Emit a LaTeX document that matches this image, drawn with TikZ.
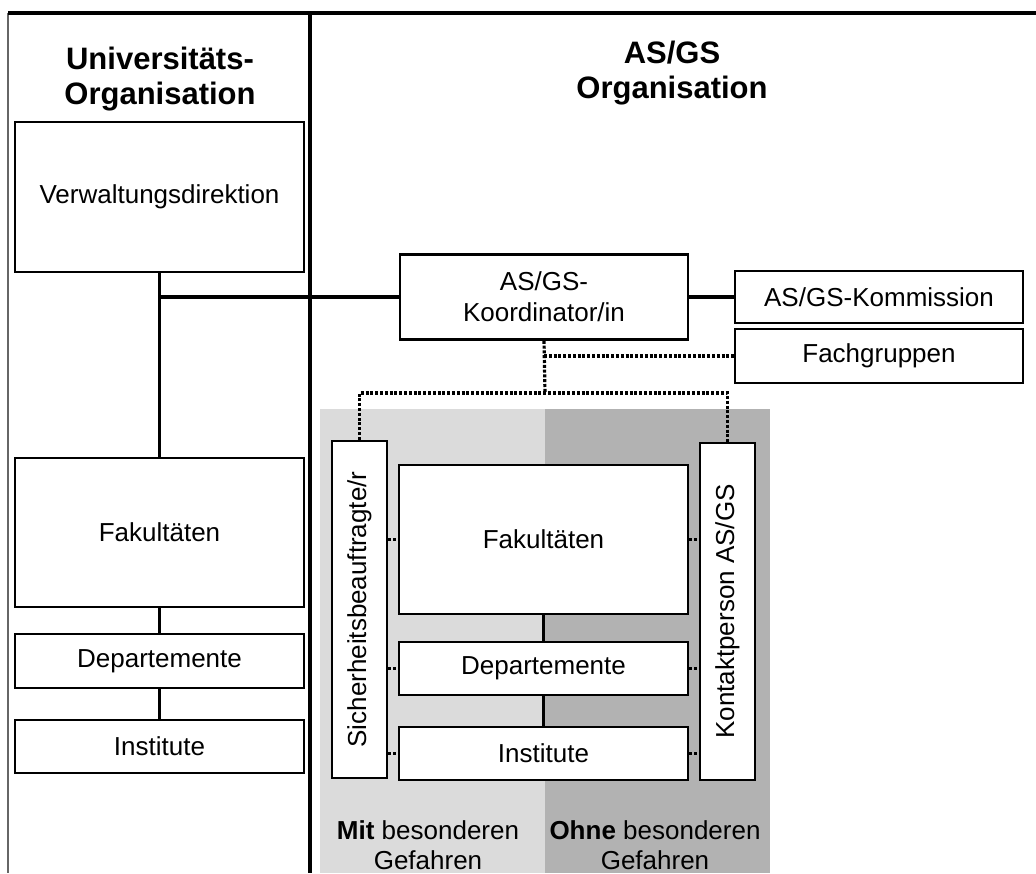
\documentclass[tikz,border=0pt]{standalone}
\usepackage{fontspec}
\setmainfont{Liberation Sans}
\usepackage{tikz}

\begin{document}
\begin{tikzpicture}[x=0.5pt,y=-0.5pt,
  box/.style={draw=black, line width=1.3pt, fill=white, inner sep=2pt, align=center,
    font=\fontsize{13}{15.5}\selectfont},
  widebox/.style={box, minimum width=144.5pt},
  sidebox/.style={box, minimum width=27.5pt, minimum height=168.5pt},
  title/.style={align=center, font=\fontsize{15.5}{17.5}\selectfont\bfseries},
  label/.style={align=center, font=\fontsize{13}{15}\selectfont},
  link/.style={line width=1.9pt},
  dotlink/.style={line width=1.6pt, dash pattern=on 1.5pt off 0.9pt}]
\useasboundingbox (0,0) rectangle (1036,873);
\fill [black!14] (320,409) rectangle (545,873);
\fill [black!30] (545,409) rectangle (770,873);
\draw [black!60, line width=0.6pt] (8,13) -- (8,873);
\draw [link] (8,13) -- (1036,13);
\draw [link] (310,13) -- (310,873);
\node [title] (unititle) at (160,79) {Universitäts-\\Organisation};
\node [title] (astitle) at (672,73) {AS/GS\\Organisation};
\node [widebox, minimum height=75pt] (verw) at (159.5,197) {Verwaltungsdirektion};
\node [widebox, minimum height=74.5pt] (fakL) at (159.5,532.5) {Fakultäten};
\node [widebox, minimum height=27pt] (depL) at (159.5,661) {Departemente};
\node [widebox, minimum height=26.5pt] (instL) at (159.5,746.5) {Institute};
\node [box, minimum width=144pt, minimum height=42.5pt] (koord) at (544,297) {AS/GS-\\Koordinator/in};
\node [box, minimum width=144pt, minimum height=26pt] (komm) at (879,297) {AS/GS-Kommission};
\node [box, minimum width=144pt, minimum height=27pt] (fach) at (879,356) {Fachgruppen};
\node [sidebox] (sich) at (359.5,609.5) {\rotatebox{90}{Sicherheitsbeauftragte/r}};
\node [sidebox] (kont) at (727.5,611.5) {\rotatebox{90}{Kontaktperson AS/GS}};
\node [widebox, minimum height=74.5pt] (fakR) at (543.5,539.5) {Fakultäten};
\node [widebox, minimum height=26.5pt] (depR) at (543.5,668.5) {Departemente};
\node [widebox, minimum height=26.5pt] (instR) at (543.5,753.5) {Institute};
\node [label] (mit) at (428,845) {\textbf{Mit} besonderen\\Gefahren};
\node [label] (ohne) at (655,845) {\textbf{Ohne} besonderen\\Gefahren};
\coordinate (split) at (545,393);
\draw [link] (verw.south) -- (fakL.north);
\draw [link] (verw.south |- koord.west) -- (koord.west);
\draw [link] (koord.east) -- (komm.west);
\draw [link] (fakL) -- (depL) -- (instL);
\draw [link] (fakR) -- (depR) -- (instR);
\draw [dotlink] (koord.south) -- (split);
\draw [dotlink] (koord.south |- fach.west) -- (fach.west);
\draw [dotlink] (sich.north) |- (split) -| (kont.north);
\foreach \n in {fakR,depR,instR} {
  \draw [dotlink] (sich.east |- \n.west) -- (\n.west);
  \draw [dotlink] (\n.east) -- (kont.west |- \n.east);
}
\end{tikzpicture}
\end{document}
